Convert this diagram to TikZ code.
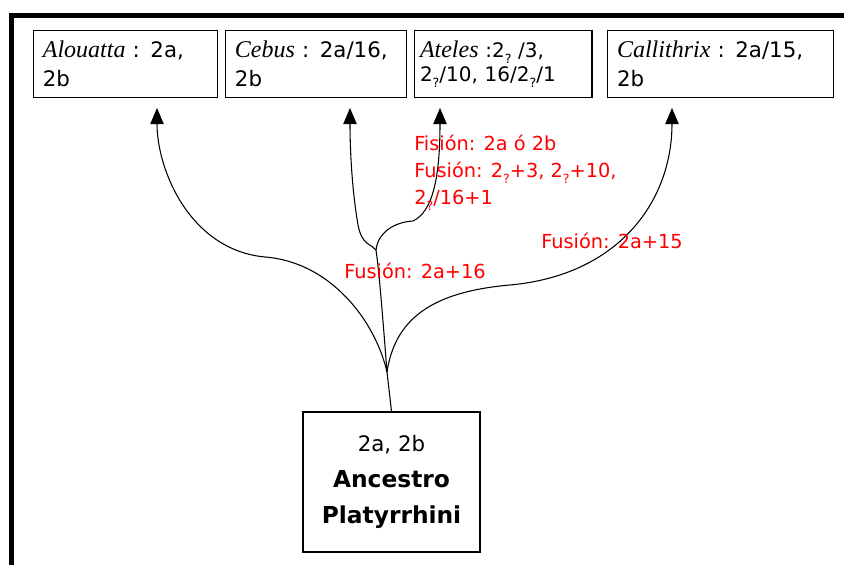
\documentclass[tikz,border=0pt]{standalone}
\usepackage{fontspec}
\setmainfont{DejaVu Sans}
\newfontfamily\genusfont{Liberation Serif}
\usetikzlibrary{arrows.meta,positioning}

\newcommand{\gen}[1]{{\genusfont\itshape\fontsize{18}{22}\selectfont #1}}
\newcommand{\qsub}{\raisebox{-0.6ex}{\fontsize{9.5}{10}\selectfont ?}}

\begin{document}
\begin{tikzpicture}[x=0.75pt, y=0.75pt, yscale=-1, node distance=5.25pt,
    every node/.style={font=\fontsize{16}{22}\selectfont},
    genbox/.style={draw, line width=0.8pt, minimum height=50.25pt, inner xsep=7pt, align=left},
    ancbox/.style={draw, line width=0.8pt, minimum width=132.75pt, minimum height=105pt, align=center},
    redlab/.style={text=red, anchor=west, inner sep=0pt, align=left, font=\fontsize{14.5}{20}\selectfont},
    branch/.style={line width=0.8pt, -{Triangle[length=12pt,width=10pt]}}]
  \useasboundingbox (0,0) rectangle (844,565);
  \draw[line width=3.75pt] (11,565) -- (11,15) -- (844,15);

  % the four genera
  \node[genbox, text width=124pt, anchor=north west] (alo) at (33,30) {\gen{Alouatta} : 2a,\\2b};
  \node[genbox, text width=121.75pt] (ceb) [right=of alo] {\gen{Cebus} : 2a/16,\\ 2b};
  \node[genbox, text width=125pt, inner xsep=4pt, font=\fontsize{15}{18}\selectfont] (ate) [right=of ceb] {\gen{Ateles} :2\qsub\ /3,\\2\qsub/10, 16/2\qsub/1};
  \node[genbox, text width=155.5pt] (cal) [right=11pt of ate] {\gen{Callithrix} : 2a/15,\\2b};

  % common ancestor
  \node[ancbox] (anc) at (391.5,482) {2a, 2b\\[5pt]\textbf{\fontsize{17.5}{28}\selectfont Ancestro}\\[5pt]\textbf{\fontsize{17.5}{28}\selectfont Platyrrhini}};

  \coordinate (tipA) at (157,108);
  \coordinate (tipB) at (350,108);
  \coordinate (tipC) at (440,108);
  \coordinate (tipD) at (672,108);
  \coordinate (junc) at (387,372);
  \coordinate (split) at (376,250);

  \draw[line width=0.8pt] (anc.north) .. controls (390,398) .. (junc);
  \draw[branch] (junc) .. controls (375,320) and (330,262) .. (265,257) .. controls (190,250) and (157,170) .. (tipA);
  \draw[line width=0.8pt] (junc) .. controls (383,320) and (379,270) .. (split);
  \draw[branch] (split) .. controls (372,244) and (362,246) .. (358,225) .. controls (352,190) and (350,150) .. (tipB);
  \draw[branch] (split) .. controls (378,232) and (395,222) .. (413,221) .. controls (432,212) and (440,180) .. (tipC);
  \draw[branch] (junc) .. controls (395,320) and (430,292) .. (510,285) .. controls (620,275) and (672,200) .. (tipD);

  % events on the branches
  \node[redlab] (fis) at (414,173) {Fisión: 2a ó 2b\\Fusión: 2\qsub+3, 2\qsub+10,\\2\qsub/16+1};
  \node[redlab] (f15) at (541,241) {Fusión: 2a+15};
  \node[redlab] (f16) at (344,271) {Fusión: 2a+16};
\end{tikzpicture}
\end{document}
